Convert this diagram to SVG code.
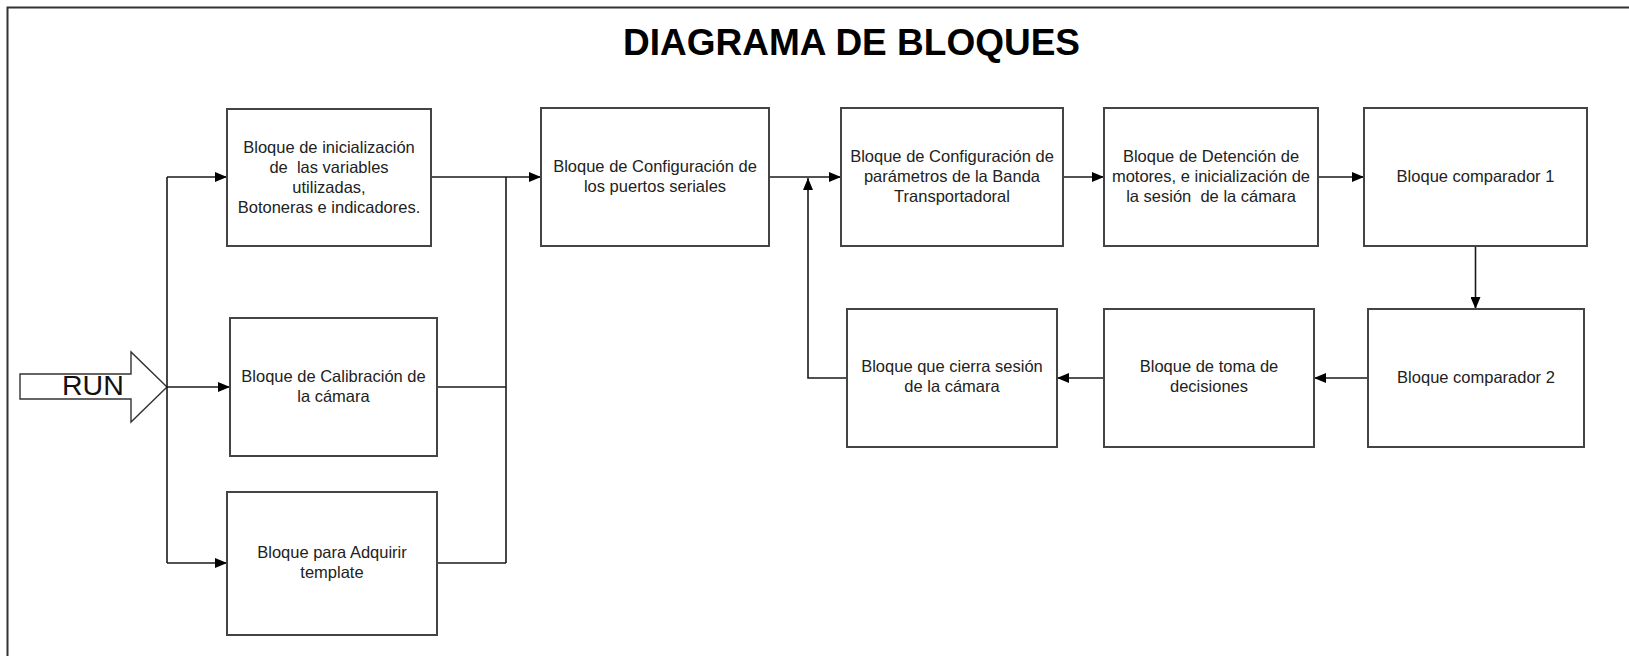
<svg xmlns="http://www.w3.org/2000/svg" width="1629" height="656" viewBox="0 0 1629 656">
<style>
.box{fill:#fff;stroke:#444;stroke-width:2}
.t{font-family:"Liberation Sans",Arial,sans-serif;font-size:16.5px;fill:#222;text-anchor:middle}
.c{fill:none;stroke:#1a1a1a;stroke-width:1.6}
.title{font-family:"Liberation Sans",Arial,sans-serif;font-size:37px;font-weight:bold;fill:#000}
</style>
<defs>
<marker id="ah" viewBox="0 0 12 10" refX="12" refY="5" markerWidth="12" markerHeight="10" markerUnits="userSpaceOnUse" orient="auto">
<path d="M0,0 L12,5 L0,10 z" fill="#000"/>
</marker>
</defs>
<rect width="1629" height="656" fill="#fff"/>
<path d="M1629,7.5 H7.5 V656" fill="none" stroke="#333" stroke-width="2"/>
<text class="title" x="623" y="55">DIAGRAMA DE BLOQUES</text>

<g id="run">
<polygon points="20,374 131,374 131,352 167,387 131,422 131,399 20,399" fill="#fff" stroke="#333" stroke-width="1.4"/>
<text x="62" y="395" font-family="Liberation Sans, Arial, sans-serif" font-size="28.5" fill="#111">RUN</text>
</g>

<g id="connectors">
<path class="c" d="M167,177 V563"/>
<path class="c" d="M167,177 H227" marker-end="url(#ah)"/>
<path class="c" d="M167,387 H230" marker-end="url(#ah)"/>
<path class="c" d="M167,563 H227" marker-end="url(#ah)"/>
<path class="c" d="M431,177 H541" marker-end="url(#ah)"/>
<path class="c" d="M506,177 V563"/>
<path class="c" d="M437,387 H506"/>
<path class="c" d="M437,563 H506"/>
<path class="c" d="M769,177 H841" marker-end="url(#ah)"/>
<path class="c" d="M1063,177 H1104" marker-end="url(#ah)"/>
<path class="c" d="M1318,177 H1364" marker-end="url(#ah)"/>
<path class="c" d="M1475.5,246 V309" marker-end="url(#ah)"/>
<path class="c" d="M1368,378 H1314" marker-end="url(#ah)"/>
<path class="c" d="M1104,378 H1057" marker-end="url(#ah)"/>
<path class="c" d="M847,378 H808 V178" marker-end="url(#ah)"/>
</g>

<g id="b1">
<rect class="box" x="227" y="109" width="204" height="137"/>
<text class="t" xml:space="preserve"><tspan x="329" y="152.5">Bloque de inicialización</tspan><tspan x="329" y="172.5">de  las variables</tspan><tspan x="329" y="192.5">utilizadas,</tspan><tspan x="329" y="212.5">Botoneras e indicadores.</tspan></text>
</g>
<g id="b2">
<rect class="box" x="230" y="318" width="207" height="138"/>
<text class="t"><tspan x="333.5" y="382">Bloque de Calibración de</tspan><tspan x="333.5" y="402">la cámara</tspan></text>
</g>
<g id="b3">
<rect class="box" x="227" y="492" width="210" height="143"/>
<text class="t"><tspan x="332" y="558">Bloque para Adquirir</tspan><tspan x="332" y="578">template</tspan></text>
</g>
<g id="b4">
<rect class="box" x="541" y="108" width="228" height="138"/>
<text class="t"><tspan x="655" y="171.5">Bloque de Configuración de</tspan><tspan x="655" y="191.5">los puertos seriales</tspan></text>
</g>
<g id="b5">
<rect class="box" x="841" y="108" width="222" height="138"/>
<text class="t"><tspan x="952" y="161.5">Bloque de Configuración de</tspan><tspan x="952" y="181.5">parámetros de la Banda</tspan><tspan x="952" y="201.5">Transportadoral</tspan></text>
</g>
<g id="b6">
<rect class="box" x="1104" y="108" width="214" height="138"/>
<text class="t" xml:space="preserve"><tspan x="1211" y="161.5">Bloque de Detención de</tspan><tspan x="1211" y="181.5">motores, e inicialización de</tspan><tspan x="1211" y="201.5">la sesión  de la cámara</tspan></text>
</g>
<g id="b7">
<rect class="box" x="1364" y="108" width="223" height="138"/>
<text class="t" x="1475.5" y="181.5">Bloque comparador 1</text>
</g>
<g id="b8">
<rect class="box" x="1368" y="309" width="216" height="138"/>
<text class="t" x="1476" y="382.5">Bloque comparador 2</text>
</g>
<g id="b9">
<rect class="box" x="1104" y="309" width="210" height="138"/>
<text class="t"><tspan x="1209" y="371.5">Bloque de toma de</tspan><tspan x="1209" y="391.5">decisiones</tspan></text>
</g>
<g id="b10">
<rect class="box" x="847" y="309" width="210" height="138"/>
<text class="t"><tspan x="952" y="371.5">Bloque que cierra sesión</tspan><tspan x="952" y="391.5">de la cámara</tspan></text>
</g>
</svg>
